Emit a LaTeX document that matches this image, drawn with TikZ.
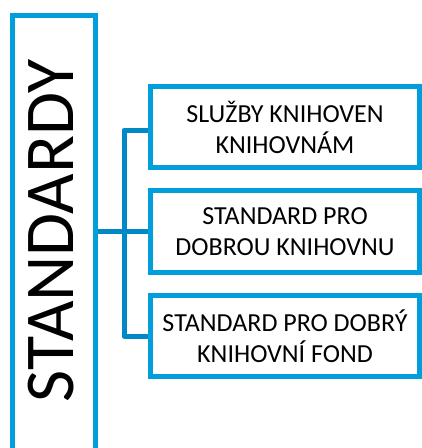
\documentclass[tikz,border=0pt]{standalone}
\usepackage{fontspec}
\setmainfont{Carlito}
\definecolor{boxblue}{RGB}{0,158,219}
\definecolor{linkblue}{RGB}{0,137,196}
\begin{document}
\begin{tikzpicture}[x=1pt,y=-1pt,
  bigbox/.style={draw=boxblue,line width=5pt,fill=white,inner sep=0pt,
    minimum width=83pt,minimum height=444.5pt},
  childbox/.style={draw=boxblue,line width=5pt,fill=white,inner sep=0pt,
    minimum width=269pt,minimum height=81pt,align=center,
    font=\fontsize{26}{31}\selectfont},
  link/.style={draw=linkblue,line width=5pt,line join=round,line cap=butt}]
\useasboundingbox[fill=white] (0,0) rectangle (422,448);
\node[bigbox] (big) at (54,237.75) {};
\node[rotate=90,font=\fontsize{70}{70}\selectfont] (title) at (51.5,231) {STANDARDY};
\node[childbox] (b1) at (285,127) {SLUŽBY KNIHOVEN\\KNIHOVNÁM};
\node[childbox,minimum height=82pt] (b2) at (285,231.5) {STANDARD PRO\\DOBROU KNIHOVNU};
\node[childbox] (b3) at (285,336) {STANDARD PRO DOBRÝ\\KNIHOVNÍ FOND};
\coordinate (bus) at (124,0);
\coordinate (t1) at (b1.west |- 0,130);
\path[link] (t1) -- (t1 -| bus) |- (b3.west);
\path[link] (big.east |- b2.west) -- (b2.west);
\end{tikzpicture}
\end{document}
